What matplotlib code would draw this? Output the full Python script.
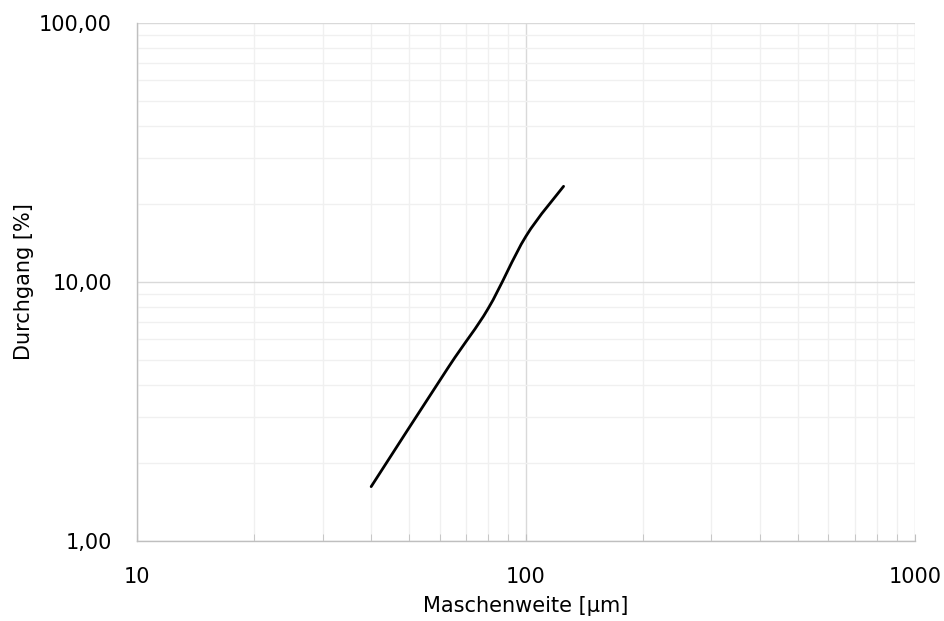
#!/usr/bin/env python3
"""Sieve passing curve (Durchgang vs. Maschenweite) on log-log axes."""
import numpy as np
import matplotlib
matplotlib.use("Agg")
import matplotlib.pyplot as plt
from matplotlib.path import Path
from matplotlib.patches import PathPatch
from matplotlib.ticker import FuncFormatter, LogLocator, NullFormatter

mesh_um = [40, 63, 80, 100, 125]
passing_pct = [1.62, 4.65, 7.9, 15.0, 23.4]

x_ticks = [10, 100, 1000]
y_ticks = [1, 10, 100]


def smooth_path(xs, ys):
    # Catmull-Rom style smoothing in log space, emitted as cubic Bezier segments
    lx, ly = np.log10(xs), np.log10(ys)
    pts = np.column_stack([lx, ly])
    n = len(pts)
    verts = [pts[0]]
    codes = [Path.MOVETO]
    for i in range(n - 1):
        p0 = pts[i - 1] if i > 0 else pts[i]
        p1, p2 = pts[i], pts[i + 1]
        p3 = pts[i + 2] if i + 2 < n else pts[i + 1]
        c1 = p1 + (p2 - p0) / 6.0
        c2 = p2 - (p3 - p1) / 6.0
        verts += [c1, c2, p2]
        codes += [Path.CURVE4] * 3
    verts = 10 ** np.array(verts)
    return Path(verts, codes)


fig = plt.figure(figsize=(9.45, 6.21), dpi=100)
ax = fig.add_axes([0.145, 0.129, 0.823, 0.834])
ax.set_xscale("log")
ax.set_yscale("log")
ax.set_xlim(x_ticks[0], x_ticks[-1])
ax.set_ylim(y_ticks[0], y_ticks[-1])

ax.set_xticks(x_ticks)
ax.set_yticks(y_ticks)
ax.xaxis.set_minor_locator(LogLocator(base=10, subs=np.arange(2, 10)))
ax.yaxis.set_minor_locator(LogLocator(base=10, subs=np.arange(2, 10)))
ax.xaxis.set_major_formatter(FuncFormatter(lambda v, _: f"{v:.0f}"))
ax.yaxis.set_major_formatter(FuncFormatter(lambda v, _: f"{v:.2f}".replace(".", ",")))
ax.xaxis.set_minor_formatter(NullFormatter())
ax.yaxis.set_minor_formatter(NullFormatter())

ax.grid(which="major", color="#d9d9d9", lw=1.0)
ax.grid(which="minor", color="#f0f0f0", lw=1.0)
ax.set_axisbelow(True)

for side in ("top", "right"):
    ax.spines[side].set_visible(False)
for side in ("left", "bottom"):
    ax.spines[side].set_color("#bfbfbf")
    ax.spines[side].set_linewidth(1.0)

ax.tick_params(axis="x", which="both", direction="in", length=5, color="#bfbfbf",
               labelsize=15, pad=19)
ax.tick_params(axis="y", which="both", length=0, labelsize=15, pad=18)

ax.add_patch(PathPatch(smooth_path(mesh_um, passing_pct), fill=False,
                       edgecolor="black", lw=2.0, capstyle="round"))

ax.set_xlabel("Maschenweite [µm]", fontsize=15, labelpad=6)
ax.set_ylabel("Durchgang [%]", fontsize=15, labelpad=3.5)

fig.savefig("out.png", dpi=100)
